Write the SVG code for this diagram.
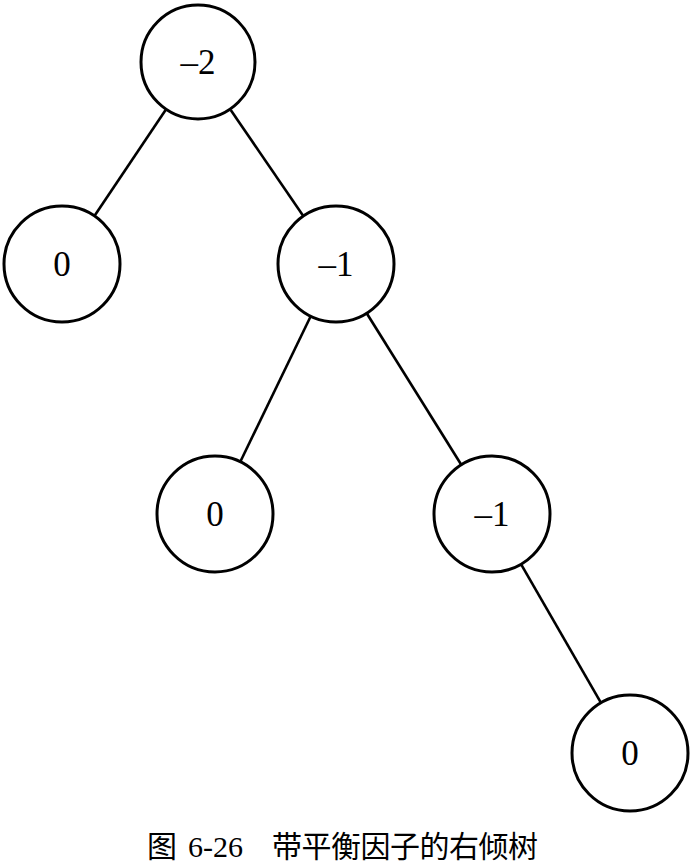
<svg xmlns="http://www.w3.org/2000/svg" width="693" height="864" viewBox="0 0 693 864">
<style>
.n circle{fill:#fff;stroke:#000;stroke-width:3}
.n text{font-family:"Liberation Serif","Times New Roman",serif;font-size:35px;text-anchor:middle;fill:#000}
.e line{stroke:#000;stroke-width:2.6}
.cap{font-family:"Liberation Serif","Noto Sans CJK SC",serif;font-size:30px;fill:#000}
</style>
<rect width="693" height="864" fill="#fff"/>
<g id="edges" class="e">
<line x1="165.6" y1="110.1" x2="94.4" y2="215.9"/>
<line x1="230.7" y1="109.9" x2="303.3" y2="216.1"/>
<line x1="310.7" y1="316.2" x2="240.3" y2="461.8"/>
<line x1="366.7" y1="313.2" x2="461.3" y2="464.8"/>
<line x1="521" y1="564.2" x2="601" y2="702.8"/>
</g>
<g id="n1" class="n"><circle cx="198" cy="62" r="57"/><text x="198" y="74">–2</text></g>
<g id="n2" class="n"><circle cx="62" cy="264" r="58"/><text x="62" y="276">0</text></g>
<g id="n3" class="n"><circle cx="336" cy="264" r="58"/><text x="336" y="276">–1</text></g>
<g id="n4" class="n"><circle cx="215" cy="514" r="58"/><text x="215" y="526">0</text></g>
<g id="n5" class="n"><circle cx="492" cy="514" r="58"/><text x="492" y="526">–1</text></g>
<g id="n6" class="n"><circle cx="630" cy="753" r="58"/><text x="630" y="765">0</text></g>
<text class="cap" y="857"><tspan x="147">图</tspan><tspan x="188">6-26</tspan><tspan x="272" textLength="266" lengthAdjust="spacing">带平衡因子的右倾树</tspan></text>
</svg>
